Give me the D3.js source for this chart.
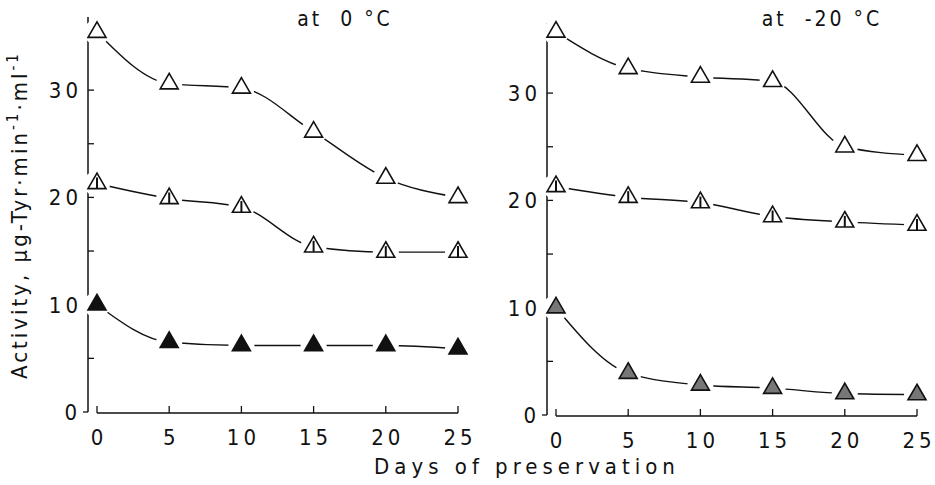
<!DOCTYPE html>
<html>
<head>
<meta charset="utf-8">
<script src="https://cdn.jsdelivr.net/npm/d3@7"></script>
<style>
  body { margin: 0; background: #fff; }
  svg text { font-family: "DejaVu Sans Condensed", "DejaVu Sans", sans-serif; fill: #111; }
</style>
</head>
<body>
<svg id="chart" width="935" height="485"></svg>
<script>
// days on the x axis
const days = [0, 5, 10, 15, 20, 25]
const xTicks = [0, 5, 10, 15, 20, 25]
const yMajor = [0, 10, 20, 30]
const yMinor = [5, 15, 25]

// activity at 0 degC
const cold0Top = [35.4, 30.6, 30.2, 26.1, 21.8, 20.0]
const cold0Mid = [21.3, 19.9, 19.1, 15.4, 14.9, 14.9]
const cold0Low = [10.0, 6.5, 6.2, 6.2, 6.2, 5.9]

// activity at -20 degC
const frozenTop = [35.7, 32.3, 31.5, 31.1, 25.0, 24.2]
const frozenMid = [21.3, 20.3, 19.8, 18.5, 18.0, 17.7]
const frozenLow = [10.0, 3.9, 2.8, 2.5, 2.0, 1.9]

const titles = ['at  0 \u00b0C', 'at  -20 \u00b0C']

const svg = d3.select('#chart')

const panels = [
  { title: titles[0], series: [cold0Top, cold0Mid, cold0Low], x0: 97, x1: 458, y0: 412, yTopPx: 17, axisX: 88, titleX: 345, lowFill: '#111' },
  { title: titles[1], series: [frozenTop, frozenMid, frozenLow], x0: 556, x1: 917, y0: 415, yTopPx: 23, axisX: 547, titleX: 822, lowFill: '#777' }
]

const pxPerUnit = 10.73
const kinds = ['open', 'half', 'filled']

panels.forEach(p => {
  const g = svg.append('g')
  const x = d3.scaleLinear().domain([0, 25]).range([p.x0, p.x1])
  const yTop = (p.y0 - p.yTopPx) / pxPerUnit
  const y = d3.scaleLinear().domain([0, yTop]).range([p.y0, p.yTopPx])

  // y axis line, ticks inward
  g.append('line')
    .attr('x1', p.axisX).attr('x2', p.axisX)
    .attr('y1', y(yTop)).attr('y2', y(0))
    .attr('stroke', '#111').attr('stroke-width', 1.5)
  g.selectAll('.ytick').data(yMajor.concat(yMinor)).join('line')
    .attr('x1', d => d === 0 ? p.axisX - 5 : p.axisX)
    .attr('x2', d => d === 0 ? p.axisX : p.axisX + 6)
    .attr('y1', d => y(d)).attr('y2', d => y(d))
    .attr('stroke', '#111').attr('stroke-width', 1.3)
  g.selectAll('.ylab').data(yMajor).join('text')
    .attr('x', d => p.axisX - (d === 0 ? 7 : 6))
    .attr('y', d => y(d) + 8)
    .attr('text-anchor', 'end')
    .attr('font-size', 22)
    .attr('letter-spacing', 4)
    .text(d => d)

  // x axis line, ticks upward
  const xAxisY = p.y0 + 1
  g.append('line')
    .attr('x1', x(0)).attr('x2', x(25))
    .attr('y1', xAxisY).attr('y2', xAxisY)
    .attr('stroke', '#111').attr('stroke-width', 1.5)
  g.selectAll('.xtick').data(xTicks).join('line')
    .attr('x1', d => x(d)).attr('x2', d => x(d))
    .attr('y1', xAxisY).attr('y2', xAxisY - 7)
    .attr('stroke', '#111').attr('stroke-width', 1.3)
  g.selectAll('.xlab').data(xTicks).join('text')
    .attr('x', d => x(d) + 2)
    .attr('y', xAxisY + 32)
    .attr('text-anchor', 'middle')
    .attr('font-size', 22)
    .attr('letter-spacing', 4)
    .text(d => d)

  // panel title
  g.append('text')
    .attr('x', p.titleX).attr('y', 26)
    .attr('text-anchor', 'middle')
    .attr('font-size', 21)
    .attr('letter-spacing', 3)
    .style('white-space', 'pre')
    .text(p.title)

  const line = d3.line()
    .x((d, i) => x(days[i]))
    .y(d => y(d))
    .curve(d3.curveMonotoneX)

  p.series.forEach((vals, si) => {
    g.append('path')
      .attr('d', line(vals))
      .attr('fill', 'none')
      .attr('stroke', '#111')
      .attr('stroke-width', 1.4)

    // white halo so the line stops short of each marker
    g.selectAll('.halo' + si).data(vals).join('circle')
      .attr('cx', (d, i) => x(days[i]))
      .attr('cy', d => y(d))
      .attr('r', 13)
      .attr('fill', '#fff')

    const tri = d3.symbol().type(d3.symbolTriangle).size(140)
    const kind = kinds[si]
    g.selectAll('.mark' + si).data(vals).join('path')
      .attr('transform', (d, i) => `translate(${x(days[i])},${y(d)})`)
      .attr('d', tri)
      .attr('fill', kind === 'filled' ? p.lowFill : '#fff')
      .attr('stroke', '#111')
      .attr('stroke-width', 1.6)
    if (kind === 'half') {
      g.selectAll('.bar' + si).data(vals).join('line')
        .attr('x1', (d, i) => x(days[i])).attr('x2', (d, i) => x(days[i]))
        .attr('y1', d => y(d) - 6).attr('y2', d => y(d) + 5)
        .attr('stroke', '#111').attr('stroke-width', 2)
    }
  })
})

// axis titles
svg.append('text')
  .attr('transform', 'translate(27,215) rotate(-90)')
  .attr('text-anchor', 'middle')
  .attr('font-size', 22)
  .attr('letter-spacing', 3)
  .call(t => {
    t.append('tspan').text('Activity, \u03bcg-Tyr\u00b7min')
    t.append('tspan').attr('font-size', 15).attr('dy', -9).text('-1')
    t.append('tspan').attr('dy', 9).text('\u00b7ml')
    t.append('tspan').attr('font-size', 15).attr('dy', -9).text('-1')
  })

svg.append('text')
  .attr('x', 527).attr('y', 474)
  .attr('text-anchor', 'middle')
  .attr('font-size', 22)
  .attr('letter-spacing', 5)
  .text('Days of preservation')
</script>
</body>
</html>
